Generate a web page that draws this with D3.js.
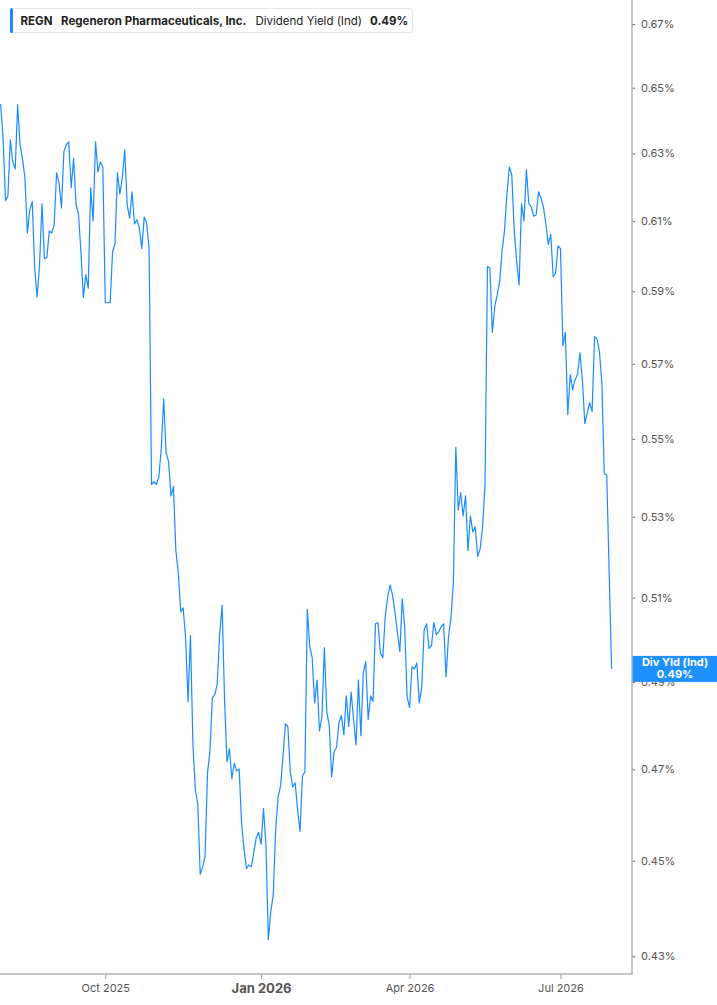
<!DOCTYPE html>
<html>
<head>
<meta charset="utf-8">
<script src="https://cdn.jsdelivr.net/npm/d3@7"></script>
<style>
  body { margin: 0; background: #fff; }
  svg { display: block; font-family: Inter, "Noto Sans", "DejaVu Sans", sans-serif; }
</style>
</head>
<body>
<main></main>
<script>
const WIDTH = 717;
const HEIGHT = 1005;
const PLOT_RIGHT = 632;
const PLOT_BOTTOM = 974;
const LINE_BLUE = "#1a8cff";

// Dividend yield (%) per trading session, 31 Jul 2025 .. 31 Jul 2026
const divYield = [
    0.6450, 0.6350, 0.6160, 0.6174, 0.6341, 0.6275, 0.6254, 0.6447, 0.6326, 0.6283,
    0.6227, 0.6066, 0.6133, 0.6157, 0.5966, 0.5884, 0.5975, 0.6151, 0.5992, 0.5995,
    0.6072, 0.6066, 0.6089, 0.6242, 0.6213, 0.6139, 0.6305, 0.6326, 0.6335, 0.6198,
    0.6286, 0.6148, 0.6121, 0.6012, 0.5882, 0.5947, 0.5909, 0.6198, 0.6101, 0.6335,
    0.6245, 0.6275, 0.6260, 0.5868, 0.5868, 0.5868, 0.6012, 0.6035, 0.6242, 0.6180,
    0.6227, 0.6311, 0.6148, 0.6109, 0.6186, 0.6092, 0.6104, 0.6081, 0.6021, 0.6112,
    0.6095, 0.6021, 0.5382, 0.5389, 0.5382, 0.5402, 0.5474, 0.5606, 0.5464, 0.5441,
    0.5353, 0.5377, 0.5215, 0.5161, 0.5066, 0.5075, 0.5004, 0.4854, 0.5009, 0.4758,
    0.4653, 0.4624, 0.4471, 0.4487, 0.4510, 0.4692, 0.4742, 0.4863, 0.4870, 0.4895,
    0.5013, 0.5082, 0.4858, 0.4717, 0.4746, 0.4679, 0.4714, 0.4696, 0.4701, 0.4580,
    0.4526, 0.4483, 0.4491, 0.4487, 0.4517, 0.4550, 0.4561, 0.4535, 0.4613, 0.4535,
    0.4334, 0.4393, 0.4428, 0.4567, 0.4639, 0.4663, 0.4728, 0.4803, 0.4797, 0.4694,
    0.4661, 0.4670, 0.4611, 0.4563, 0.4685, 0.4694, 0.5071, 0.4983, 0.4956, 0.4851,
    0.4904, 0.4787, 0.4819, 0.4980, 0.4829, 0.4801, 0.4683, 0.4740, 0.4749, 0.4806,
    0.4822, 0.4778, 0.4867, 0.4797, 0.4876, 0.4813, 0.4755, 0.4904, 0.4776, 0.4921,
    0.4947, 0.4813, 0.4867, 0.4854, 0.5037, 0.5040, 0.4968, 0.4956, 0.5054, 0.5101,
    0.5131, 0.5106, 0.5066, 0.5016, 0.4971, 0.5097, 0.5030, 0.4865, 0.4840, 0.4935,
    0.4930, 0.4944, 0.4851, 0.4888, 0.5023, 0.5037, 0.4978, 0.4985, 0.5040, 0.5011,
    0.5018, 0.5030, 0.5037, 0.4911, 0.5006, 0.5051, 0.5137, 0.5478, 0.5317, 0.5361,
    0.5302, 0.5353, 0.5215, 0.5302, 0.5262, 0.5275, 0.5201, 0.5220, 0.5275, 0.5382,
    0.5970, 0.5966, 0.5786, 0.5857, 0.5890, 0.5927, 0.6015, 0.6072, 0.6180, 0.6260,
    0.6236, 0.6072, 0.5985, 0.5918, 0.6151, 0.6101, 0.6251, 0.6151, 0.6142, 0.6115,
    0.6118, 0.6186, 0.6168, 0.6141, 0.6092, 0.6033, 0.6062, 0.5941, 0.5951, 0.6029,
    0.6021, 0.5749, 0.5786, 0.5564, 0.5671, 0.5630, 0.5657, 0.5671, 0.5730, 0.5657,
    0.5540, 0.5567, 0.5596, 0.5572, 0.5774, 0.5768, 0.5733, 0.5649, 0.5409, 0.5407,
    0.5162, 0.4930
];

// x axis: session index of the first trading day of each labelled month
const xTickSessions = [43, 107, 168, 230];
const xTickLabels = ["Oct 2025", "Jan 2026", "Apr 2026", "Jul 2026"];
const yTickValues = [0.43, 0.45, 0.47, 0.49, 0.51, 0.53, 0.55, 0.57, 0.59, 0.61, 0.63, 0.65, 0.67];

const ticker = "REGN";
const company = "Regeneron Pharmaceuticals, Inc.";
const metric = "Dividend Yield (Ind)";
const tagName = "Div Yld (Ind)";

function drawChart () {
    var svg = d3.select("main").append("svg")
                               .attr("width", WIDTH)
                               .attr("height", HEIGHT);

    var x = d3.scaleLinear()
              .domain([0, divYield.length - 1])
              .range([0.6, 611.6]);

    var y = d3.scaleLog()
              .domain([0.4264, 0.6777])
              .range([PLOT_BOTTOM, 0]);

    svg.append("clipPath")
       .attr("id", "plot-clip")
       .append("rect")
       .attr("x", 0)
       .attr("y", 0)
       .attr("width", PLOT_RIGHT)
       .attr("height", PLOT_BOTTOM);

    // The yield line
    var line = d3.line()
                 .x(function(d, i) { return x(i); })
                 .y(function(d) { return y(d); });

    svg.append("path")
       .datum(divYield)
       .attr("clip-path", "url(#plot-clip)")
       .attr("d", line)
       .style("fill", "none")
       .style("stroke", LINE_BLUE)
       .style("stroke-width", 1.2)
       .style("stroke-linejoin", "round");

    // Right axis
    var yAxis = d3.axisRight(y)
                  .tickValues(yTickValues)
                  .tickFormat(function(d) { return d.toFixed(2) + "%"; })
                  .tickSizeInner(3)
                  .tickSizeOuter(0)
                  .tickPadding(6);

    var gy = svg.append("g")
                .attr("transform", "translate(" + PLOT_RIGHT + ",0)")
                .call(yAxis);
    gy.select(".domain").remove();
    gy.selectAll(".tick line").style("stroke", "#666").style("stroke-width", 1);
    gy.selectAll(".tick text")
      .style("fill", "#555")
      .style("font-size", "11px")
      .style("font-family", "Inter, 'Noto Sans', sans-serif");

    // Bottom axis
    var xAxis = d3.axisBottom(x)
                  .tickValues(xTickSessions)
                  .tickFormat(function(d, i) { return xTickLabels[i]; })
                  .tickSizeInner(5)
                  .tickSizeOuter(0)
                  .tickPadding(5);

    var gx = svg.append("g")
                .attr("transform", "translate(0," + PLOT_BOTTOM + ")")
                .call(xAxis);
    gx.select(".domain").remove();
    gx.selectAll(".tick line").style("stroke", "#999").style("stroke-width", 1);
    gx.selectAll(".tick text")
      .style("fill", "#555")
      .style("font-size", function(d, i) { return xTickLabels[i].indexOf("Jan") === 0 ? "13px" : "11px"; })
      .style("font-weight", function(d, i) { return xTickLabels[i].indexOf("Jan") === 0 ? "700" : "400"; })
      .style("font-family", "Inter, 'Noto Sans', sans-serif");

    // Frame lines (right and bottom)
    svg.append("line")
       .attr("x1", PLOT_RIGHT).attr("x2", PLOT_RIGHT)
       .attr("y1", 0).attr("y2", PLOT_BOTTOM)
       .style("stroke", "#b3b3b3")
       .style("stroke-width", 1.5);

    svg.append("line")
       .attr("x1", 0).attr("x2", PLOT_RIGHT + 0.75)
       .attr("y1", PLOT_BOTTOM).attr("y2", PLOT_BOTTOM)
       .style("stroke", "#b3b3b3")
       .style("stroke-width", 1.5);

    // Last value tag on the right axis (covers the 0.49% tick label, as in the source)
    var lastValue = divYield[divYield.length - 1];
    var tagY = y(lastValue);
    var tag = svg.append("g");

    tag.append("rect")
       .attr("x", PLOT_RIGHT + 0.5)
       .attr("y", tagY - 13)
       .attr("width", WIDTH - PLOT_RIGHT)
       .attr("height", 26)
       .style("fill", "#1e90ff");

    tag.append("text")
       .attr("x", 675)
       .attr("y", tagY - 2.5)
       .style("text-anchor", "middle")
       .style("fill", "white")
       .style("font-size", "11px")
       .style("font-weight", "700")
       .text(tagName);

    tag.append("text")
       .attr("x", 675)
       .attr("y", tagY + 9)
       .style("text-anchor", "middle")
       .style("fill", "white")
       .style("font-size", "11px")
       .style("font-weight", "700")
       .text(lastValue.toFixed(2) + "%");

    // Legend box
    var legend = svg.append("g");

    legend.append("rect")
          .attr("x", 10.5)
          .attr("y", 8.5)
          .attr("width", 402)
          .attr("height", 24)
          .attr("rx", 3)
          .style("fill", "white")
          .style("stroke", "#e6e6e6");

    legend.append("rect")
          .attr("x", 10)
          .attr("y", 8)
          .attr("width", 3)
          .attr("height", 25)
          .attr("rx", 1.5)
          .style("fill", LINE_BLUE);

    var legendItems = [
        { text: ticker, x: 20.5, weight: "700" },
        { text: company, x: 61, weight: "700" },
        { text: metric, x: 255.5, weight: "400" },
        { text: lastValue.toFixed(2) + "%", x: 370, weight: "700" }
    ];

    legend.selectAll("text.legend")
          .data(legendItems)
          .enter()
          .append("text")
          .attr("class", "legend")
          .attr("x", function(d) { return d.x; })
          .attr("y", 25)
          .style("fill", "#222")
          .style("font-size", "11.5px")
          .style("font-weight", function(d) { return d.weight; })
          .text(function(d) { return d.text; });
}

drawChart();
</script>
</body>
</html>
